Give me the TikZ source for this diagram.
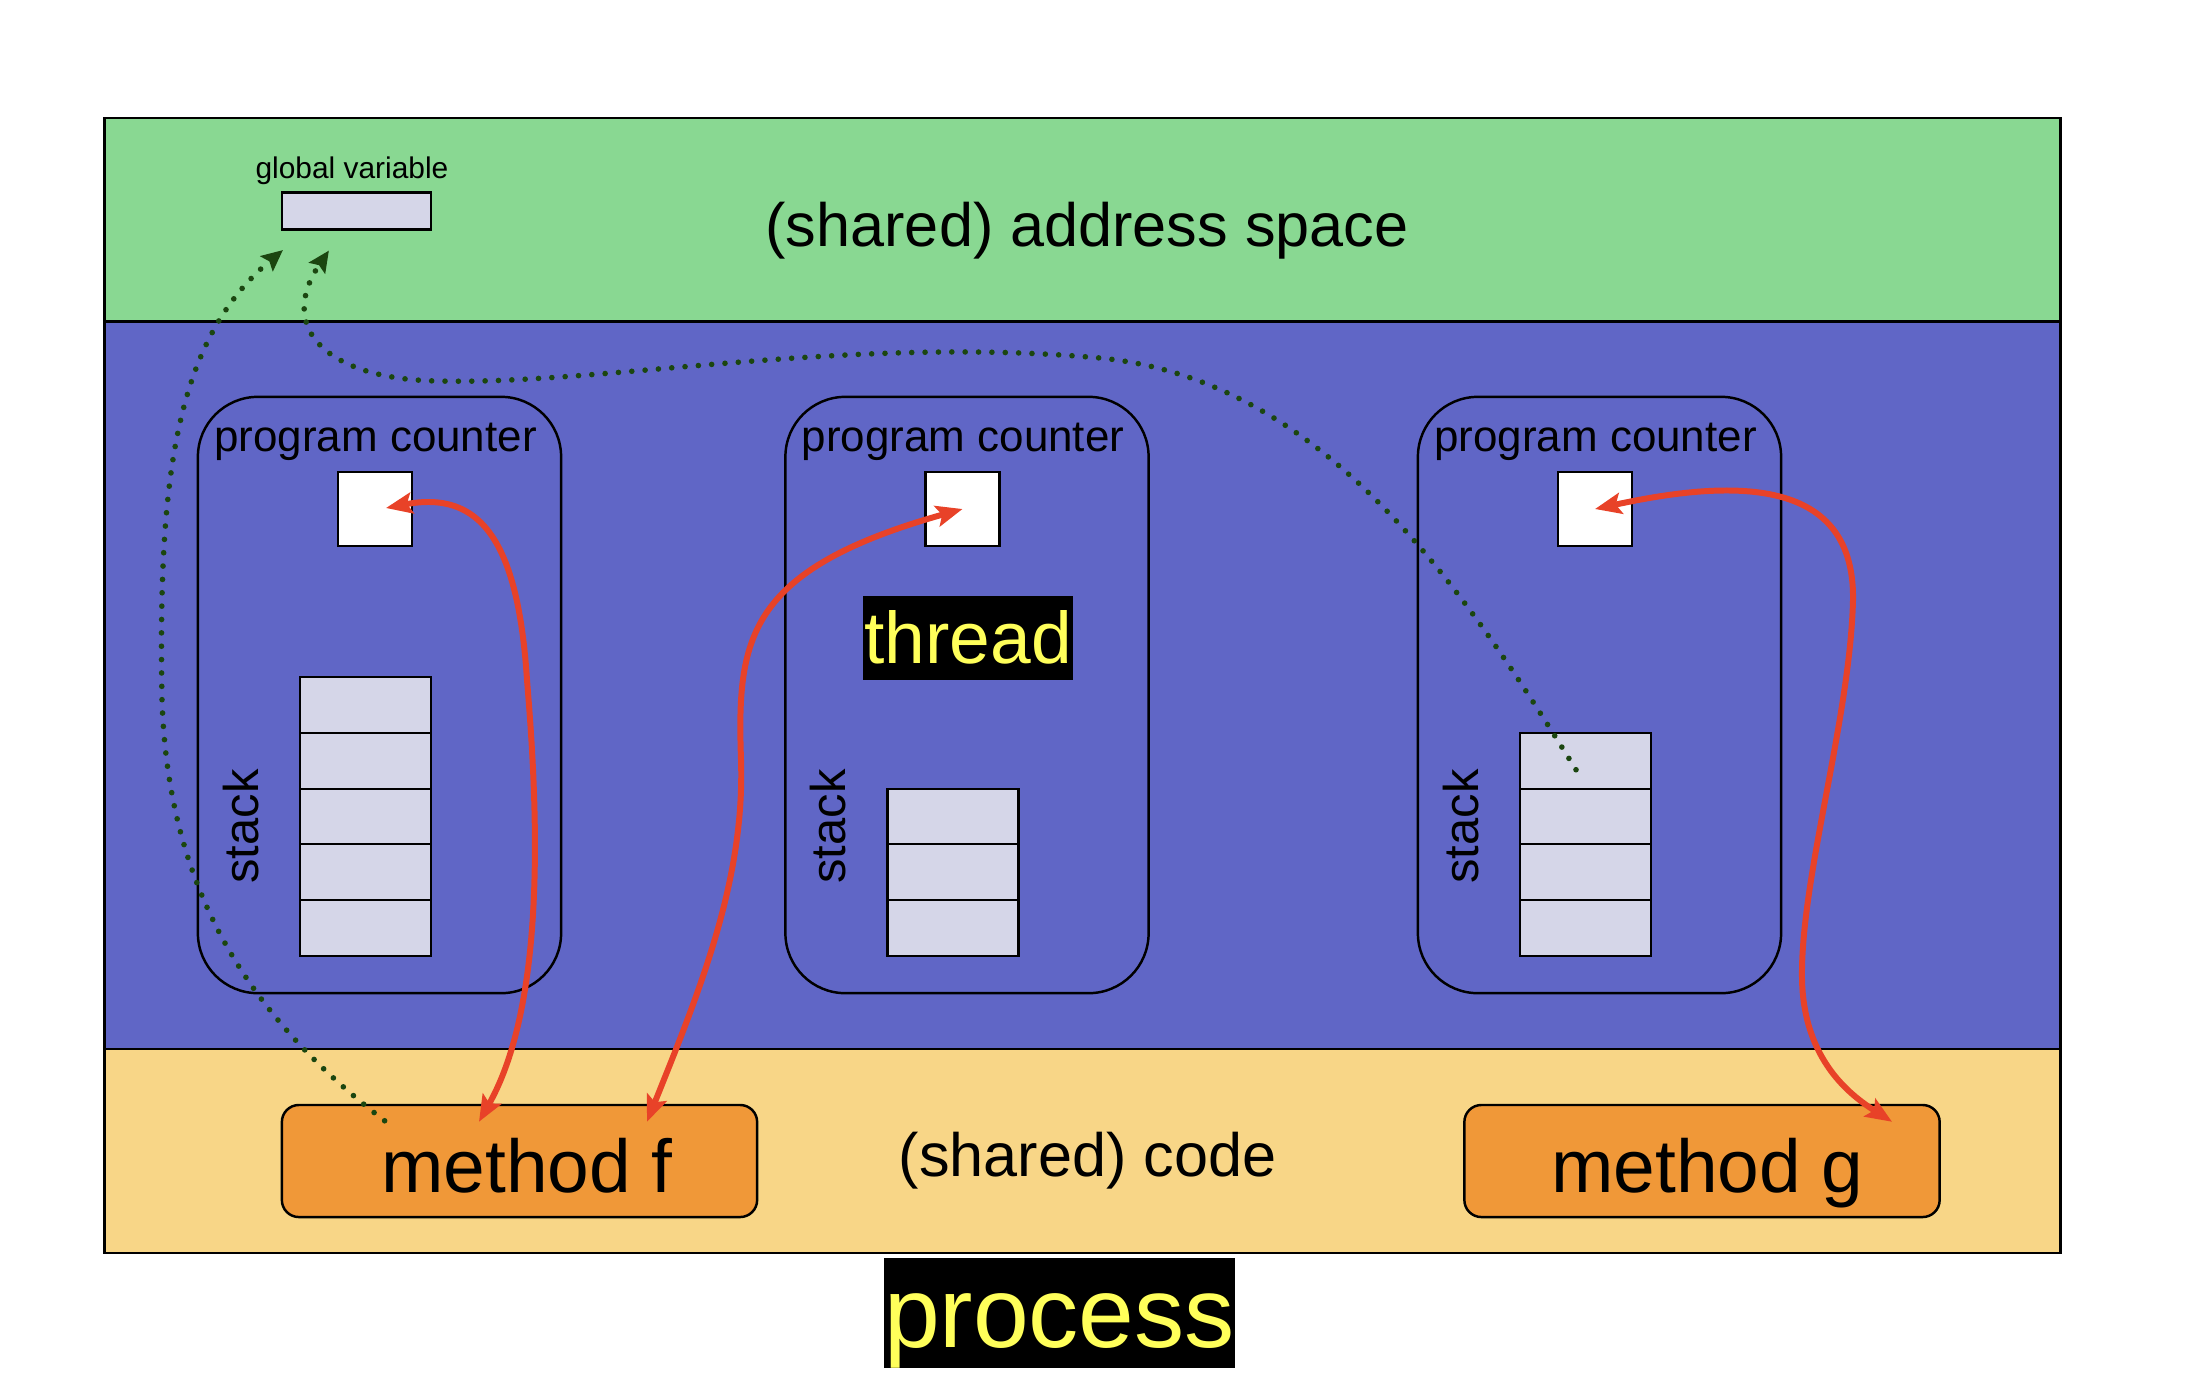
\documentclass[tikz,border=0pt]{standalone}
\usepackage{fontspec}
\setmainfont{Liberation Sans}
\usetikzlibrary{arrows.meta,calc}
\definecolor{greenc}{RGB}{137,216,146}
\definecolor{bluec}{RGB}{96,102,198}
\definecolor{yellowc}{RGB}{248,214,135}
\definecolor{orangec}{RGB}{240,152,56}
\definecolor{cellc}{RGB}{213,214,232}
\definecolor{redc}{RGB}{232,66,40}
\definecolor{dgreenc}{RGB}{27,70,16}
\definecolor{labyellow}{RGB}{255,255,90}
\newcommand\pxfont[1]{\fontsize{#1}{#1}\selectfont}
\begin{document}
\begin{tikzpicture}[x=0.01cm,y=-0.01cm,
  region/.style={draw=black, line width=0.8pt, inner sep=0, minimum width=19.55cm},
  thrbox/.style={draw=black, line width=0.7pt, rounded corners=0.6cm, minimum width=3.63cm, minimum height=5.96cm, inner sep=0},
  pcbox/.style={draw=black, fill=white, line width=0.6pt, minimum width=0.74cm, minimum height=0.74cm, inner sep=0},
  cellbox/.style={draw=black, fill=cellc, line width=0.6pt, minimum width=1.31cm, minimum height=0.558cm, inner sep=0},
  pclabel/.style={font=\pxfont{12.5pt}, anchor=base, inner sep=0},
  stacklabel/.style={font=\pxfont{13.9pt}, rotate=90, inner sep=0},
  regionlabel/.style={font=\pxfont{17.4pt}, anchor=base, inner sep=0},
  methodbox/.style={draw=black, fill=orangec, line width=0.7pt, rounded corners=0.17cm, minimum width=4.75cm, minimum height=1.12cm, inner sep=0, font=\pxfont{21.3pt}, text height=0.8cm, text depth=0.18cm},
  blacklabel/.style={fill=black, text=labyellow, inner sep=0},
  redarr/.style={draw=redc, line width=1.7pt, >={Stealth[length=7.5pt,width=6pt,inset=1.5pt]}, <->},
  dotarr/.style={draw=dgreenc, line width=1.6pt, line cap=round, dash pattern=on 0pt off 3.8pt, -{Stealth[length=6pt,width=5.5pt,inset=1pt]}}
]
\useasboundingbox (0,0) rectangle (2200,1396);
% regions
\node[region, fill=greenc, minimum height=2.04cm] (addr) at (1082.5,220) {};
\node[region, fill=bluec, minimum height=7.27cm] (thrreg) at (1082.5,685.5) {};
\node[region, fill=yellowc, minimum height=2.04cm] (code) at (1082.5,1151) {};
\node[regionlabel] (addrlbl) at (1087,246) {(shared) address space};
\node[regionlabel] (codelbl) at (1087.5,1176) {(shared) code};
% global variable
\node[draw=black, fill=cellc, line width=0.6pt, minimum width=1.49cm, minimum height=0.37cm, inner sep=0] (gv) at (356.5,211) {};
\node[font=\pxfont{8.5pt}, anchor=base, inner sep=0] (gvlbl) at (352,178) {global variable};
% threads
\foreach \i/\cx/\n in {1/379.5/5, 2/967/3, 3/1599.5/4}{
  \node[thrbox] (t\i) at (\cx,695) {};
  \node[pclabel] (pcl\i) at ({\cx-4},451) {program counter};
  \node[pcbox] (pc\i) at ({\cx-4.5},509) {};
  \node[stacklabel] (sl\i) at ({\cx-138.5},826.5) {stack};
  \foreach \k in {1,...,\n}{
    \node[cellbox] (s\i-\k) at ({\cx-14},{956-27.9-55.8*(\k-1)}) {};
  }
}
\node[blacklabel, font=\pxfont{20.8pt}, minimum width=2.1cm, minimum height=0.84cm, text height=0.675cm, text depth=0.165cm] (thrlbl) at (968,638) {thread};
% methods
\node[methodbox] (mf) at (519.5,1161) {\hspace*{0.15cm}method f};
\node[methodbox] (mg) at (1702,1161) {\hspace*{0.11cm}method g};
% process label
\node[blacklabel, font=\pxfont{28.5pt}, minimum width=3.45cm, minimum height=1.1cm, text height=0.88cm, text depth=0.2cm] (proc) at (1059.5,1313) {process};
% red arrows
\draw[redarr] ($(pc1.center)+(11,-1)$) .. controls (480,490) and (518,540) .. (527,680)
  .. controls (537,800) and (548,1000) .. ($(mf.north)+(-40.5,18)$);
\draw[redarr] ($(mf.north)+(127.5,18)$) .. controls (700,990) and (745,880) .. (741,760)
  .. controls (737,640) and (745,570) .. (pc2.center);
\draw[redarr] (pc3.center) .. controls (1720,482) and (1855,470) .. (1853,600)
  .. controls (1850,720) and (1800,880) .. (1802,980)
  .. controls (1804,1060) and (1850,1095) .. ($(mg.north)+(190,18)$);
% dotted arrows
\draw[dotarr] ($(mf.north west)+(104,17)$) .. controls (240,1010) and (168,880) .. (162,700)
  .. controls (158,480) and (175,340) .. ($(gv.south west)+(2,19.5)$);
\draw[dotarr] ($(s3-4.center)+(-9.5,9)$) .. controls (1470,600) and (1330,380) .. (1100,358)
  .. controls (850,335) and (600,385) .. (440,381)
  .. controls (330,380) and (275,330) .. ($(gv.south west)+(48,20)$);
\end{tikzpicture}
\end{document}
